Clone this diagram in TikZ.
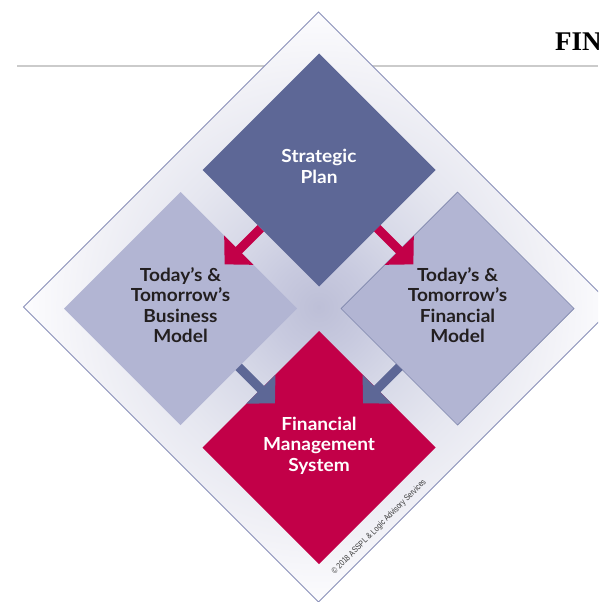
\documentclass[tikz,border=0pt]{standalone}
\usepackage{fontspec}
\setmainfont{Lato}[FakeStretch=1.06]
\newfontfamily\headfont{Liberation Serif}
\newfontfamily\notefont{Liberation Sans}[FakeStretch=0.82]
\usetikzlibrary{shapes.geometric,arrows.meta}

\definecolor{planblue}{HTML}{5D6796}
\definecolor{modelgrey}{HTML}{B2B5D3}
\definecolor{fmsred}{HTML}{C20048}
\definecolor{inkdark}{HTML}{231F20}
\definecolor{edgeblue}{HTML}{8A90B9}
\definecolor{rulegrey}{HTML}{CBCBCB}
\definecolor{notegrey}{HTML}{3A3A3A}
\definecolor{halo0}{HTML}{BDBFD7}
\definecolor{halo1}{HTML}{C8CADF}
\definecolor{halo2}{HTML}{D6D8E7}
\definecolor{halo3}{HTML}{E6E7F0}
\definecolor{halo4}{HTML}{F2F2F7}
\definecolor{halo5}{HTML}{FCFCFE}

% the path's box is mapped onto the inner 50bp square of the shading
\pgfdeclareradialshading{halo}{\pgfpoint{0bp}{0bp}}{%
  color(0bp)=(halo0); color(4bp)=(halo1); color(8bp)=(halo2);
  color(14bp)=(halo3); color(20bp)=(halo4); color(25bp)=(halo5);
  color(50bp)=(halo5)}

\begin{document}
\begin{tikzpicture}[x=1pt,y=-1pt,
    box/.style={diamond, aspect=1, minimum size=233pt, inner sep=0pt,
      outer sep=0pt, align=center, text depth=7pt,
      font=\bfseries\fontsize{18}{20.5}\selectfont},
    link/.style={line width=9pt, -{Triangle[length=20pt,width=40pt]},
      shorten >=-20pt}]
    \clip (0,0) rectangle (598,602);

    % page heading and rule
    \node[anchor=base west, font=\headfont\bfseries\fontsize{27}{27}\selectfont]
        (head) at (551.5,50.7) {FIN};
    \draw[rulegrey, line width=1.5pt] (17,66) -- (598,66);

    % frame
    \shadedraw[shading=halo, draw=edgeblue, line width=0.8pt]
        (318.5,12) -- (613.5,307) -- (318.5,602) -- (23.5,307) -- cycle;

    \node[box, fill=planblue, text=white] (plan) at (319,170)
        {Strategic\\Plan};
    \node[box, fill=modelgrey, text=inkdark] (busmodel) at (180.5,308.5)
        {Today’s \&\\Tomorrow’s\\Business\\Model};
    \node[box, fill=modelgrey, text=inkdark, draw=planblue!80, line width=0.7pt]
        (finmodel) at (457.5,308.5)
        {Today’s \&\\Tomorrow’s\\Financial\\Model};
    \node[box, fill=fmsred, text=white] (fms) at (319,447.5)
        {Financial\\Management\\System};

    \draw[link, fmsred] (plan) -- (busmodel);
    \draw[link, fmsred] (plan) -- (finmodel);
    \draw[link, planblue] (busmodel) -- (fms);
    \draw[link, planblue] (finmodel) -- (fms);

    \node[rotate=45, text=notegrey, font=\notefont\fontsize{8.5}{8.5}\selectfont]
        (note) at (379,527) {© 2018 ASSPL \& Logic Advisory Services};
\end{tikzpicture}
\end{document}
